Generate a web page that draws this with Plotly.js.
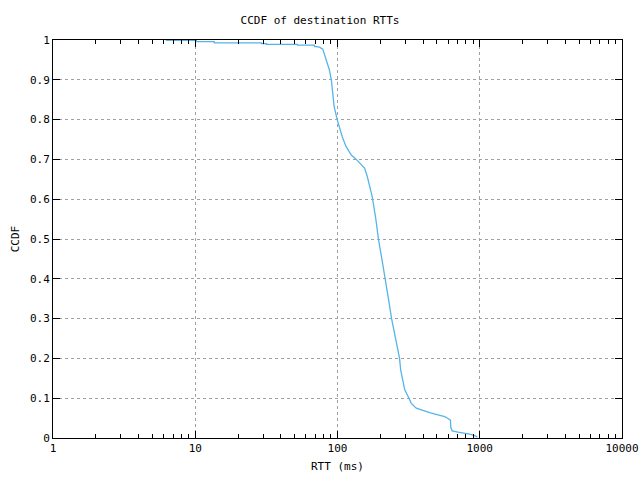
<!DOCTYPE html>
<html>
<head>
<meta charset="utf-8">
<script src="https://cdn.plot.ly/plotly-3.0.1.min.js"></script>
<style>html,body{margin:0;padding:0;background:#fff;}#chart{width:640px;height:480px;}</style>
</head>
<body>
<div id="chart"></div>
<script>
// RTT values (ms) and CCDF values
var rtt = [6.2, 10.2, 10.2, 13.6, 13.6, 29.2, 29.2, 31.6, 31.6, 52.3, 52.3, 68.9, 68.9, 74.7, 78.8, 81.0, 83.7, 87.5, 90.5, 94.8, 99.5, 108, 115, 125, 135.5, 147, 155, 162, 168, 175.5, 186, 194, 205, 217, 228, 240, 256, 273, 278, 286, 297, 318, 330, 358, 399, 444, 509, 567, 598, 622, 626, 640, 703, 850, 948, 960];
var ccdf = [0.999, 0.999, 0.996, 0.996, 0.993, 0.993, 0.991, 0.991, 0.989, 0.989, 0.987, 0.987, 0.984, 0.982, 0.977, 0.964, 0.951, 0.926, 0.9, 0.832, 0.8, 0.757, 0.732, 0.711, 0.70, 0.686, 0.678, 0.657, 0.631, 0.606, 0.55, 0.5, 0.45, 0.4, 0.35, 0.3, 0.246, 0.2, 0.171, 0.146, 0.121, 0.1, 0.087, 0.075, 0.069, 0.064, 0.058, 0.054, 0.049, 0.045, 0.027, 0.018, 0.015, 0.010, 0.004, 0.002];

var yTicks = [0, 0.1, 0.2, 0.3, 0.4, 0.5, 0.6, 0.7, 0.8, 0.9, 1];
var xTicks = [1, 10, 100, 1000, 10000];
var xTickText = ['1', '10', '100', '1000', '10000'];

// minor tick positions for the log axis (2..9 within each decade)
var minorX = [];
for (var d = 1; d < 10000; d *= 10) {
  for (var m = 2; m <= 9; m++) minorX.push(d * m);
}

var font = {family: 'DejaVu Sans Mono, monospace', size: 11, color: '#000'};

var trace = {
  x: rtt, y: ccdf, type: 'scatter', mode: 'lines',
  line: {color: '#56b4e9', width: 1.3},
  hoverinfo: 'skip'
};

var layout = {
  width: 640, height: 480,
  margin: {l: 53, r: 18, t: 40, b: 42},
  paper_bgcolor: '#fff', plot_bgcolor: '#fff',
  showlegend: false,
  font: font,
  title: {text: 'CCDF of destination RTTs', font: font, x: 0.5, xanchor: 'center', y: 0.957, yanchor: 'middle'},
  xaxis: {
    type: 'log', range: [0, 4],
    tickmode: 'array', tickvals: xTicks, ticktext: xTickText,
    ticks: 'inside', ticklen: 7, tickcolor: '#000', tickwidth: 1,
    minor: {tickmode: 'array', tickvals: minorX, ticks: 'inside', ticklen: 4, tickcolor: '#000', showgrid: false},
    showline: true, linecolor: '#000', linewidth: 1, mirror: 'ticks',
    showgrid: true, gridcolor: '#a0a0a0', griddash: 'dot', gridwidth: 1,
    zeroline: false,
    tickfont: font,
    title: {text: 'RTT (ms)', font: font, standoff: 8}
  },
  yaxis: {
    range: [0, 1],
    tickmode: 'array', tickvals: yTicks,
    ticks: 'inside', ticklen: 7, tickcolor: '#000', tickwidth: 1,
    showline: true, linecolor: '#000', linewidth: 1, mirror: 'ticks',
    showgrid: true, gridcolor: '#a0a0a0', griddash: 'dot', gridwidth: 1,
    zeroline: false,
    tickfont: font,
    title: {text: 'CCDF', font: font, standoff: 8}
  }
};

Plotly.newPlot('chart', [trace], layout, {displayModeBar: false, staticPlot: true});
</script>
</body>
</html>
